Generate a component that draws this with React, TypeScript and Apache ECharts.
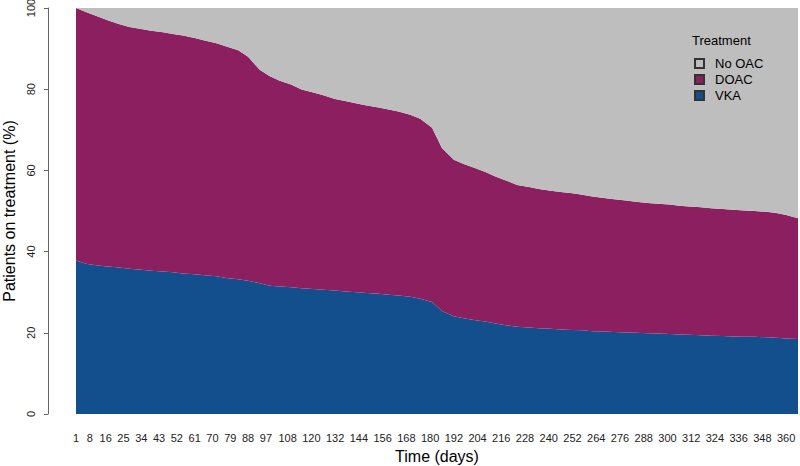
import React, { useEffect, useRef } from "react";
import * as echarts from "echarts";

const tickDays = [1, 8, 16, 25, 34, 43, 52, 61, 70, 79, 88, 97, 108, 120, 132, 144, 156, 168, 180, 192, 204, 216, 228, 240, 252, 264, 276, 288, 300, 312, 324, 336, 348, 360];

const days = [1, 6, 12, 17, 23, 28, 34, 39, 45, 50, 55, 61, 66, 72, 77, 83, 88, 94, 99, 104, 110, 115, 121, 126, 132, 137, 143, 148, 154, 159, 164, 170, 175, 181, 186, 192, 197, 203, 208, 213, 219, 224, 230, 235, 241, 246, 252, 257, 262, 268, 273, 279, 284, 290, 295, 301, 306, 311, 317, 322, 328, 333, 339, 344, 350, 355, 360, 366];

const vka = [37.8, 37.0, 36.6, 36.3, 36.1, 35.8, 35.5, 35.3, 35.1, 34.9, 34.6, 34.4, 34.2, 33.9, 33.5, 33.2, 32.8, 32.2, 31.6, 31.4, 31.2, 31.0, 30.8, 30.6, 30.4, 30.2, 30.0, 29.8, 29.6, 29.4, 29.2, 28.9, 28.4, 27.6, 25.4, 24.1, 23.6, 23.1, 22.8, 22.3, 21.8, 21.5, 21.3, 21.1, 21.0, 20.8, 20.7, 20.6, 20.4, 20.3, 20.2, 20.1, 20.0, 19.9, 19.8, 19.7, 19.6, 19.5, 19.4, 19.3, 19.2, 19.1, 19.0, 19.0, 18.9, 18.8, 18.6, 18.5];

const doac = [62.2, 62.0, 61.3, 60.7, 59.9, 59.5, 59.3, 59.1, 58.9, 58.7, 58.6, 58.2, 57.8, 57.4, 57.0, 56.4, 55.2, 52.5, 51.6, 50.7, 49.9, 48.9, 48.4, 47.9, 47.2, 46.9, 46.5, 46.2, 45.9, 45.6, 45.3, 44.8, 44.3, 42.9, 40.1, 38.5, 38.0, 37.4, 36.8, 36.2, 35.6, 34.9, 34.6, 34.3, 34.0, 33.9, 33.7, 33.4, 33.2, 32.9, 32.7, 32.5, 32.3, 32.1, 32.0, 31.9, 31.7, 31.6, 31.5, 31.4, 31.3, 31.2, 31.1, 31.0, 30.9, 30.7, 30.4, 29.7];

const noOac = [0, 1.0, 2.1, 3.0, 4.0, 4.7, 5.2, 5.6, 6.0, 6.4, 6.8, 7.4, 8.0, 8.7, 9.5, 10.4, 12.0, 15.3, 16.8, 17.9, 18.9, 20.1, 20.8, 21.5, 22.4, 22.9, 23.5, 24.0, 24.5, 25.0, 25.5, 26.3, 27.3, 29.5, 34.5, 37.4, 38.4, 39.5, 40.4, 41.5, 42.6, 43.6, 44.1, 44.6, 45.0, 45.3, 45.6, 46.0, 46.4, 46.8, 47.1, 47.4, 47.7, 48.0, 48.2, 48.4, 48.7, 48.9, 49.1, 49.3, 49.5, 49.7, 49.9, 50.0, 50.2, 50.5, 51.0, 51.8];

const FONT = "'Liberation Sans', Arial, sans-serif";
const COLORS = { vka: "#134F8C", doac: "#8B1F5F", noOac: "#BEBEBE" };

function areaSeries(name: string, values: number[], color: string) {
  return {
    name,
    type: "line",
    stack: "total",
    // value first so that the stack is computed on the y dimension
    data: days.map((d, i) => [values[i], d]),
    encode: { x: 1, y: 0 },
    showSymbol: false,
    symbol: "none",
    lineStyle: { width: 0, color },
    itemStyle: { color, borderColor: "#333", borderWidth: 1 },
    areaStyle: { color, opacity: 1 },
  };
}

export default function App() {
  const ref = useRef<HTMLDivElement>(null);
  useEffect(() => {
    document.body.style.margin = "0";
    const chart = echarts.init(ref.current!, null, { renderer: "svg" });
    chart.setOption({
      animation: false,
      textStyle: { fontFamily: FONT },
      grid: { left: 76, right: 2, top: 8, bottom: 52, outerBoundsMode: "none", containLabel: false },
      xAxis: {
        type: "value",
        min: 1,
        max: 366,
        name: "Time (days)",
        nameLocation: "middle",
        nameGap: 34,
        nameTextStyle: { fontSize: 16, color: "#000", fontFamily: FONT },
        axisLine: { show: false },
        axisTick: { show: false },
        axisLabel: {
          customValues: tickDays,
          showMinLabel: true,
          showMaxLabel: true,
          hideOverlap: false,
          margin: 18,
          fontSize: 11,
          color: "#222",
          fontFamily: FONT,
        },
        splitLine: { show: false },
      },
      yAxis: {
        type: "value",
        min: 0,
        max: 100,
        interval: 20,
        offset: 28,
        name: "Patients on treatment (%)",
        nameLocation: "middle",
        nameGap: 25,
        nameTextStyle: { fontSize: 16, color: "#000", fontFamily: FONT },
        axisLine: { show: true, lineStyle: { color: "#666", width: 1 } },
        axisTick: { show: true, length: 4, lineStyle: { color: "#666" } },
        axisLabel: { rotate: 90, margin: 12, fontSize: 11, color: "#222", fontFamily: FONT },
        splitLine: { show: false },
      },
      legend: {
        orient: "vertical",
        left: 689,
        top: 52,
        itemWidth: 9,
        itemHeight: 9,
        itemGap: 3,
        icon: "rect",
        data: ["No OAC", "DOAC", "VKA"],
        textStyle: { fontSize: 13, color: "#000", fontFamily: FONT, padding: [0, 0, 0, 6] },
      },
      graphic: [
        {
          type: "text",
          left: 692,
          top: 34,
          z: 100,
          style: { text: "Treatment", fontSize: 13, fill: "#000", fontFamily: FONT },
        },
      ],
      series: [
        areaSeries("VKA", vka, COLORS.vka),
        areaSeries("DOAC", doac, COLORS.doac),
        areaSeries("No OAC", noOac, COLORS.noOac),
      ],
    });
    return () => chart.dispose();
  }, []);
  return <div ref={ref} style={{ width: 800, height: 466 }} />;
}
